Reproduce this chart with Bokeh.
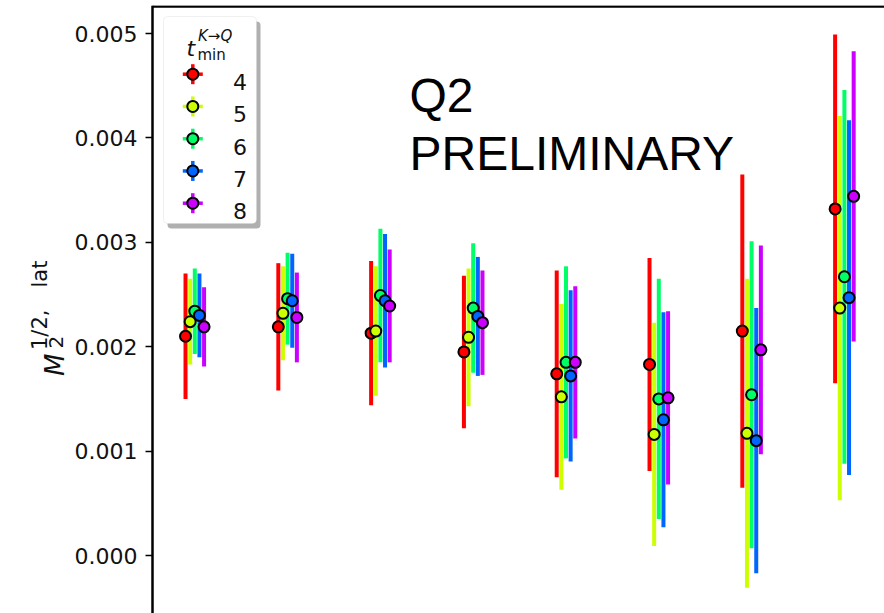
import math
from bokeh.plotting import figure
from bokeh.models import (Range1d, Label, BoxAnnotation, NumeralTickFormatter,
                          FixedTicker, ColumnDataSource)
from bokeh.embed import file_html
from bokeh.resources import INLINE

# ---------------- data ----------------
groups = [1, 2, 3, 4, 5, 6, 7, 8]
tmin_labels = ["4", "5", "6", "7", "8"]
colors = ["#ff0000", "#ccff00", "#00ff66", "#0066ff", "#cc00ff"]

m2_t4 = [0.00210, 0.00219, 0.00213, 0.00195, 0.00174, 0.00183, 0.00215, 0.00332]
m2_t5 = [0.00224, 0.00232, 0.00215, 0.00209, 0.00152, 0.00116, 0.00117, 0.00237]
m2_t6 = [0.00234, 0.00246, 0.00249, 0.00237, 0.00185, 0.00150, 0.00154, 0.00267]
m2_t7 = [0.00230, 0.00244, 0.00244, 0.00229, 0.00172, 0.00130, 0.00110, 0.00247]
m2_t8 = [0.00219, 0.00228, 0.00239, 0.00223, 0.00185, 0.00151, 0.00197, 0.00344]

err_t4 = [0.00060, 0.00061, 0.00069, 0.00073, 0.00099, 0.00102, 0.00150, 0.00167]
err_t5 = [0.00041, 0.00045, 0.00062, 0.00066, 0.00089, 0.00107, 0.00148, 0.00184]
err_t6 = [0.00041, 0.00044, 0.00064, 0.00062, 0.00092, 0.00115, 0.00147, 0.00179]
err_t7 = [0.00040, 0.00045, 0.00064, 0.00057, 0.00082, 0.00103, 0.00127, 0.00170]
err_t8 = [0.00038, 0.00043, 0.00054, 0.00050, 0.00073, 0.00083, 0.00100, 0.00139]

y_ticks = [0.000, 0.001, 0.002, 0.003, 0.004, 0.005]

series_vals = [m2_t4, m2_t5, m2_t6, m2_t7, m2_t8]
series_errs = [err_t4, err_t5, err_t6, err_t7, err_t8]

# ---------------- layout ----------------
W, H = 884, 613
BT = 5                      # frame top (px from page top)
AXIS_X = 152                # where the y axis sits (px from page left)
FW, FH = W, H - BT
GROUP_PX = 92.8
x_lo = 1 - (AXIS_X + 42.3) / GROUP_PX
x_hi = x_lo + FW / GROUP_PX
x_axis_pos = x_lo + AXIS_X / GROUP_PX
PX_PER_UNIT = 104400.0
y_hi = (555 - BT) / PX_PER_UNIT
y_lo = -(H - 555) / PX_PER_UNIT

p = figure(width=W, height=H, output_backend="svg", toolbar_location=None,
           x_range=Range1d(x_lo, x_hi), y_range=Range1d(y_lo, y_hi),
           x_axis_location=None, min_border_left=0, min_border_right=0,
           min_border_top=BT, min_border_bottom=0)
p.extra_x_ranges = {"px": Range1d(0, FW)}
p.extra_y_ranges = {"px": Range1d(FH, 0)}
p.outline_line_color = None
p.xgrid.visible = False
p.ygrid.visible = False
p.background_fill_color = "white"
p.border_fill_color = "white"

ax = p.yaxis[0]
ax.fixed_location = x_axis_pos
ax.ticker = FixedTicker(ticks=y_ticks)
ax.formatter = NumeralTickFormatter(format="0.000")
ax.axis_line_width = 2.5
ax.axis_line_color = "black"
ax.major_tick_out = 7
ax.major_tick_in = 0
ax.major_tick_line_width = 1.5
ax.major_tick_line_color = "black"
ax.minor_tick_line_color = None
ax.major_label_standoff = 8
ax.major_label_text_font = "DejaVu Sans"
ax.major_label_text_font_size = "22px"
ax.major_label_text_color = "#111111"

# top spine (from the y axis to the right edge)
p.segment(x0=[AXIS_X], y0=[1], x1=[FW], y1=[1], x_range_name="px", y_range_name="px",
          line_color="black", line_width=2.5)

# ---------------- data marks ----------------
offsets = [(k - 2) * 0.05 for k in range(len(tmin_labels))]
sources = []
for k, (vals, errs) in enumerate(zip(series_vals, series_errs)):
    xs = [g + offsets[k] for g in groups]
    src = ColumnDataSource(dict(x=xs, y=vals,
                                lo=[v - e for v, e in zip(vals, errs)],
                                hi=[v + e for v, e in zip(vals, errs)]))
    sources.append(src)
    p.segment(x0="x", y0="lo", x1="x", y1="hi", source=src,
              line_color=colors[k], line_width=4)
for k, src in enumerate(sources):
    p.scatter(x="x", y="y", source=src, size=11, fill_color=colors[k],
              line_color="black", line_width=2)

# ---------------- legend (drawn by hand, pixel coords in frame) ----------------
p.add_layout(BoxAnnotation(left=167, right=260, top=16, bottom=223,
                           x_range_name="px", y_range_name="px",
                           fill_color="#b0b0b0", fill_alpha=1.0, line_color=None,
                           border_radius=4))
p.add_layout(BoxAnnotation(left=163, right=256, top=11, bottom=218,
                           x_range_name="px", y_range_name="px",
                           fill_color="white", fill_alpha=1.0, line_color="#cccccc",
                           line_width=1, border_radius=4))

row_y = [68.7 + 32.25 * i for i in range(len(tmin_labels))]
mx = 192.3
for i, lab in enumerate(tmin_labels):
    ry = row_y[i]
    p.segment(x0=[mx - 10, mx], y0=[ry, ry - 10], x1=[mx + 10, mx], y1=[ry, ry + 10],
              x_range_name="px", y_range_name="px", line_color=colors[i],
              line_width=3.5, level="overlay")
    p.scatter(x=[mx], y=[ry], x_range_name="px", y_range_name="px", size=11,
              fill_color=colors[i], line_color="black", line_width=2, level="overlay")
    p.add_layout(Label(x=232.5, y=ry + 8, text=lab, x_range_name="px", y_range_name="px",
                       text_font="DejaVu Sans", text_font_size="22px", text_color="#111111",
                       text_baseline="alphabetic", text_align="left", level="overlay"))

# legend title  t^{K->Q}_{min}
p.add_layout(Label(x=186, y=43, text="t", x_range_name="px", y_range_name="px",
                   text_font="DejaVu Sans", text_font_style="italic", text_font_size="22px",
                   text_color="#111111", text_baseline="alphabetic", level="overlay"))
p.add_layout(Label(x=197, y=49, text="min", x_range_name="px", y_range_name="px",
                   text_font="DejaVu Sans", text_font_size="15px",
                   text_color="#111111", text_baseline="alphabetic", level="overlay"))
p.add_layout(Label(x=197.5, y=30.5, text="K→Q", x_range_name="px", y_range_name="px",
                   text_font="DejaVu Sans", text_font_style="italic", text_font_size="15px",
                   text_color="#111111", text_baseline="alphabetic", level="overlay"))

# ---------------- annotation text ----------------
p.add_layout(Label(x=409, y=90, text="Q2", x_range_name="px", y_range_name="px",
                   text_font="Liberation Sans", text_font_size="48px", text_color="black",
                   text_baseline="alphabetic"))
p.add_layout(Label(x=409, y=147.7, text="PRELIMINARY", x_range_name="px", y_range_name="px",
                   text_font="Liberation Sans", text_font_size="48px", text_color="black",
                   text_baseline="alphabetic"))

# ---------------- y axis label  M_2^{1/2, lat} ----------------
rot = math.pi / 2
def ylab(px_x, py, text, size, italic=False):
    p.add_layout(Label(x=px_x, y=py - BT, x_range_name="px", y_range_name="px",
                       text=text, angle=rot, text_font="DejaVu Sans",
                       text_font_style="italic" if italic else "normal",
                       text_font_size=size, text_color="#111111",
                       text_baseline="alphabetic", text_align="left"))

ylab(54.0, 375.5, "M", "26px", italic=True)
ylab(55.5, 348.0, "2", "20px")
ylab(39.5, 349.5, "1/2,", "21px")
ylab(39.0, 287.0, "lat", "21px")

open("out.html", "w").write(file_html(p, INLINE))
